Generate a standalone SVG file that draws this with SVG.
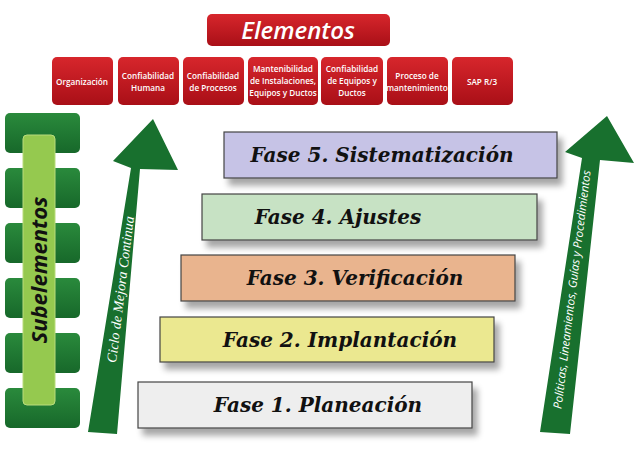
<svg xmlns="http://www.w3.org/2000/svg" width="640" height="458" viewBox="0 0 640 458">
<defs>
<linearGradient id="red" x1="0" y1="0" x2="0" y2="1"><stop offset="0" stop-color="#d7262c"/><stop offset="1" stop-color="#a90f17"/></linearGradient>
<linearGradient id="grn" x1="0" y1="0" x2="0" y2="1"><stop offset="0" stop-color="#2a8a3c"/><stop offset="1" stop-color="#17682a"/></linearGradient>
<filter id="sh" x="-10%" y="-20%" width="130%" height="160%"><feGaussianBlur in="SourceAlpha" stdDeviation="3"/><feOffset dx="5" dy="7"/><feComponentTransfer><feFuncA type="linear" slope="0.35"/></feComponentTransfer><feMerge><feMergeNode/><feMergeNode in="SourceGraphic"/></feMerge></filter>
</defs>
<style>
.el{fill:url(#red);}
.et{font-family:"Open Sans","Liberation Sans",Arial,sans-serif;font-size:8.2px;font-weight:600;fill:#fff;text-anchor:middle;}
.sub{fill:url(#grn);}
.ph{stroke:#444;stroke-width:1.2;filter:url(#sh);}
.pt{font-family:"DejaVu Serif",serif;font-size:20px;font-weight:bold;font-style:italic;fill:#111;text-anchor:middle;}
</style>
<rect width="640" height="458" fill="#fff"/>
<g id="elementos"><rect class="el" x="207" y="14" width="183" height="32" rx="5"/>
<text x="298" y="39" font-family="Open Sans,Liberation Sans,Arial,sans-serif" font-size="24" font-weight="600" font-style="italic" fill="#fff" text-anchor="middle">Elementos</text></g>
<g id="e1"><rect class="el" x="52" y="57" width="61" height="48" rx="5"/><text class="et" x="82" y="85">Organización</text></g>
<g id="e2"><rect class="el" x="118" y="57" width="61" height="48" rx="5"/><text class="et" x="148" y="79">Confiabilidad</text><text class="et" x="148" y="91">Humana</text></g>
<g id="e3"><rect class="el" x="183" y="57" width="61" height="48" rx="5"/><text class="et" x="213" y="79">Confiabilidad</text><text class="et" x="213" y="91">de Procesos</text></g>
<g id="e4"><rect class="el" x="248" y="57" width="70" height="48" rx="5"/><text class="et" x="283" y="72">Mantenibilidad</text><text class="et" x="283" y="84">de Instalaciones,</text><text class="et" x="283" y="96">Equipos y Ductos</text></g>
<g id="e5"><rect class="el" x="321" y="57" width="62" height="48" rx="5"/><text class="et" x="352" y="72">Confiabilidad</text><text class="et" x="352" y="84">de Equipos y</text><text class="et" x="352" y="96">Ductos</text></g>
<g id="e6"><rect class="el" x="387" y="57" width="61" height="48" rx="5"/><text class="et" x="417" y="79">Proceso de</text><text class="et" x="417" y="91">mantenimiento</text></g>
<g id="e7"><rect class="el" x="452" y="57" width="61" height="48" rx="5"/><text class="et" x="482" y="85">SAP R/3</text></g>
<g id="subelementos">
<rect class="sub" x="5" y="113" width="75" height="40" rx="5"/>
<rect class="sub" x="5" y="168" width="75" height="40" rx="5"/>
<rect class="sub" x="5" y="223" width="75" height="40" rx="5"/>
<rect class="sub" x="5" y="278" width="75" height="40" rx="5"/>
<rect class="sub" x="5" y="333" width="75" height="40" rx="5"/>
<rect class="sub" x="5" y="388" width="75" height="40" rx="5"/>
<rect x="23" y="135" width="32" height="270" rx="4" fill="#95c94f" stroke="#b9dc7d"/>
<text transform="translate(47,270) rotate(-90)" font-family="Open Sans,Liberation Sans,sans-serif" font-size="22" font-weight="bold" font-style="italic" fill="#111" text-anchor="middle">Subelementos</text>
</g>
<g id="ciclo">
<polygon points="88,432 117,434 140,169 178,170 153,119 113,161 131,168" fill="#18702e"/>
<text transform="translate(125,290) rotate(-83)" font-family="Liberation Serif,serif" font-size="14" font-style="italic" fill="#fff" text-anchor="middle">Ciclo de Mejora Continua</text>
</g>
<g id="politicas">
<polygon points="540,432 570,434 600,160 634,163 607,116 565,152 582,158" fill="#18702e"/>
<text transform="translate(576,290) rotate(-83)" font-family="Open Sans,Liberation Sans,sans-serif" font-size="11.5" font-style="italic" fill="#fff" text-anchor="middle">Políticas, Lineamientos, Guías y Procedimientos</text>
</g>
<g id="fase5"><rect class="ph" x="224" y="132" width="333" height="46" fill="#c6c3e6"/><text class="pt" x="382" y="162">Fase 5. Sistematización</text></g>
<g id="fase4"><rect class="ph" x="202" y="194" width="335" height="46" fill="#c7e2c4"/><text class="pt" x="338" y="224">Fase 4. Ajustes</text></g>
<g id="fase3"><rect class="ph" x="181" y="255" width="334" height="46" fill="#e9b48e"/><text class="pt" x="355" y="285">Fase 3. Verificación</text></g>
<g id="fase2"><rect class="ph" x="160" y="317" width="334" height="45" fill="#ebe890"/><text class="pt" x="340" y="347">Fase 2. Implantación</text></g>
<g id="fase1"><rect class="ph" x="138" y="382" width="334" height="46" fill="#eeeeee"/><text class="pt" x="318" y="412">Fase 1. Planeación</text></g>
</svg>
